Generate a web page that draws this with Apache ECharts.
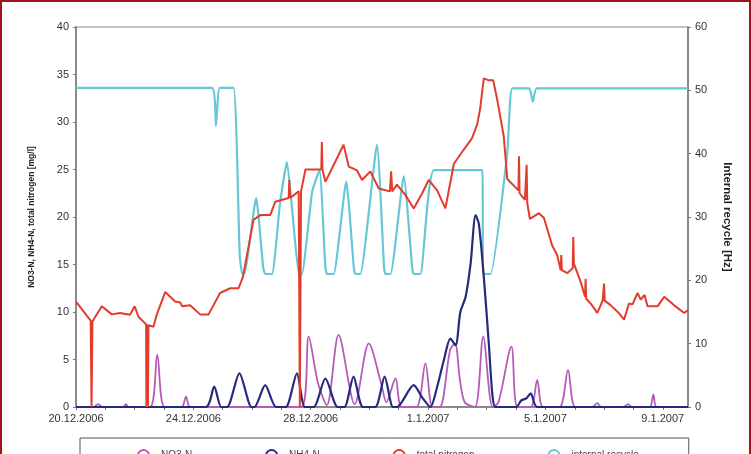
<!DOCTYPE html>
<html><head><meta charset="utf-8">
<script src="https://cdn.jsdelivr.net/npm/echarts@6/dist/echarts.min.js"></script>
<style>
html,body{margin:0;padding:0;background:#fff;}
#wrap{position:relative;width:751px;height:454px;box-sizing:border-box;border-top:2px solid #a3141a;border-left:2px solid #a3141a;border-right:2px solid #a3141a;overflow:hidden;}
#c{position:absolute;left:-2px;top:-2px;width:751px;height:454px;}
</style></head>
<body><div id="wrap"><div id="c"></div></div>
<script>
// x values are days after 20.12.2006 00:00
const tickDates = ['20.12.2006','24.12.2006','28.12.2006','1.1.2007','5.1.2007','9.1.2007'];
const seriesNames = ['NO3-N','NH4-N','total nitrogen','internal recycle'];

const redDays = [0,0.50,0.53,0.56,0.88,1.22,1.50,1.84,2.00,2.13,2.39,2.40,2.42,2.45,2.47,2.64,2.75,3.04,3.38,3.55,3.62,3.89,4.23,4.52,4.91,5.26,5.54,5.69,6.05,6.28,6.62,6.79,7.25,7.27,7.30,7.59,7.63,7.67,7.82,8.36,8.38,8.40,8.50,9.12,9.30,9.58,9.75,10.03,10.32,10.70,10.74,10.78,10.94,11.23,11.51,11.80,12.02,12.31,12.59,12.88,13.22,13.50,13.68,13.78,13.90,14.05,14.22,14.36,14.58,14.70,15.08,15.10,15.12,15.30,15.36,15.38,15.47,15.78,15.95,16.23,16.40,16.52,16.54,16.56,16.75,16.93,16.95,16.97,17.20,17.35,17.37,17.39,17.54,17.77,17.95,18.00,18.02,18.23,18.50,18.68,18.85,18.97,19.14,19.25,19.38,19.48,19.82,20.05,20.39,20.73,20.86];
const redVals = [11.1,9.1,0,9.0,10.6,9.75,9.9,9.7,10.6,9.5,8.7,0,8.7,0,8.6,8.45,9.7,12.1,11.1,11.0,10.6,10.7,9.75,9.75,12.0,12.5,12.5,13.7,19.7,20.2,20.2,21.6,22.0,23.9,22.0,22.7,0,22.7,25.0,25.0,27.9,25.0,23.7,27.6,25.3,24.9,23.9,24.8,23.0,22.7,24.8,22.7,23.4,22.3,20.9,22.5,23.9,22.8,20.9,25.6,27.1,28.3,29.8,31.5,34.6,34.4,34.4,32.3,28.5,24.0,22.8,26.4,22.5,21.8,25.5,21.5,19.8,20.4,19.9,17.0,16.0,14.4,16.0,14.4,14.1,14.6,17.9,15.1,13.2,11.6,13.5,11.4,10.9,9.9,11.2,13.0,11.2,10.7,9.9,9.2,10.9,10.8,12.0,11.3,11.8,10.6,10.6,11.6,10.7,9.9,10.2];

const cyanDays = [0,4.63,4.77,4.90,5.37,5.58,5.67,5.74,6.14,6.38,6.45,6.68,6.95,7.19,7.45,7.60,7.70,8.05,8.30,8.50,8.56,8.78,9.21,9.47,9.52,9.69,10.26,10.50,10.55,10.72,11.17,11.46,11.51,11.74,12.20,13.85,13.88,14.13,14.70,14.87,15.45,15.57,15.70,20.86];
const cyanVals = [50.4,50.4,44.4,50.4,50.4,24,21,21,33.0,22,21,21,32,38.7,27,21,21,34,37.4,22,21,21,35.6,22,21,21,41.4,22,21,21,36.4,22,21,21,37.4,37.4,21,21,40.1,50.3,50.3,48.2,50.3,50.3];

const navyDays = [0,4.42,4.71,4.95,5.15,5.57,5.98,6.08,6.45,6.82,7.15,7.53,7.80,8.10,8.50,8.92,9.15,9.46,9.78,10.20,10.52,10.80,10.94,11.51,11.80,12.08,12.30,12.54,12.76,12.94,13.10,13.28,13.45,13.62,13.73,13.90,14.07,14.19,14.30,15.00,15.18,15.35,15.50,15.72,20.86];
const navyVals = [0,0,2.14,0,0,3.55,0,0,2.3,0,0,3.55,0,0,3.0,0,0,3.2,0,0,3.2,0,0,2.3,1.0,0,2.0,4.95,7.2,6.5,10.0,11.6,15.1,20.2,19.3,13.7,6.7,1.4,0,0,0.7,0.9,1.45,0,0];

const magDays = [0,0.60,0.75,0.90,1.60,1.70,1.80,2.52,2.77,3.02,3.60,3.75,3.90,7.68,7.93,8.25,8.55,8.95,9.50,9.98,10.40,10.58,10.89,11.10,11.60,11.91,12.15,12.40,12.75,12.92,13.08,13.25,13.60,13.88,14.20,14.40,14.84,15.05,15.50,15.72,15.92,16.48,16.77,17.02,17.60,17.77,17.90,18.65,18.82,18.95,19.55,19.68,19.80,20.86];
const magVals = [0,0,0.3,0,0,0.3,0,0,5.5,0,0,1.1,0,0,7.4,2.5,0.2,7.6,0.3,6.7,2.5,0.5,3.0,0,0,4.6,0,0,6.0,6.7,3.0,0.5,0,7.4,0,0.5,6.35,0,0,2.85,0,0,3.9,0,0,0.4,0,0,0.3,0,0,1.3,0,0];

function pairs(d, v){ return d.map((x,i)=>[x, v[i]]); }

const chart = echarts.init(document.getElementById('c'), null, {renderer:'canvas'});
const axisFont = {fontFamily:'Liberation Sans, Arial, sans-serif', fontSize:11, color:'#333'};
chart.setOption({
  animation:false,
  backgroundColor:'#fff',
  grid:{left:76, right:63, top:27, bottom:47, show:true, borderColor:'#c4c4c4', borderWidth:2},
  legend:{
    show:true, left:80, top:438, padding:[11,50,4,50], itemGap:66,
    borderColor:'#555', borderWidth:1, textStyle:{fontSize:10, color:'#444'},
    data:seriesNames
  },
  xAxis:{
    type:'value', min:0, max:20.86, interval:1,
    axisLine:{show:true, lineStyle:{color:'#777', width:1.5}},
    axisTick:{show:true, inside:false, length:3, lineStyle:{color:'#777'}},
    splitLine:{show:false},
    axisLabel:Object.assign({margin:6, showMaxLabel:false,
      formatter:function(v){ const k=Math.round(v); return (k%4===0 && Math.abs(v-k)<1e-6) ? (tickDates[k/4]||'') : ''; }}, axisFont)
  },
  yAxis:[{
    type:'value', min:0, max:40, interval:5, position:'left',
    name:'NO3-N, NH4-N, total nitrogen [mg/l]', nameLocation:'middle', nameGap:40, nameRotate:90,
    nameTextStyle:{fontFamily:'Liberation Sans, Arial, sans-serif', fontSize:8.5, fontWeight:'bold', color:'#222'},
    axisLine:{show:true, lineStyle:{color:'#777', width:1.5}},
    axisTick:{show:true, length:3, lineStyle:{color:'#777'}},
    splitLine:{show:false},
    axisLabel:Object.assign({margin:7}, axisFont)
  },{
    type:'value', min:0, max:60, interval:10, position:'right',
    name:'Internal recycle [Hz]', nameLocation:'middle', nameGap:33, nameRotate:-90,
    nameTextStyle:{fontFamily:'Liberation Sans, Arial, sans-serif', fontSize:11.5, fontWeight:'bold', color:'#222'},
    axisLine:{show:true, lineStyle:{color:'#777', width:1.5}},
    axisTick:{show:true, length:3, lineStyle:{color:'#777'}},
    splitLine:{show:false},
    axisLabel:Object.assign({margin:7}, axisFont)
  }],
  series:[
    {name:seriesNames[3], type:'line', yAxisIndex:1, data:pairs(cyanDays,cyanVals), showSymbol:false, smooth:0.15,
     lineStyle:{color:'#66c8d6', width:2.2}, itemStyle:{color:'#66c8d6'}, z:2},
    {name:seriesNames[0], type:'line', yAxisIndex:0, data:pairs(magDays,magVals), showSymbol:false, smooth:0.3,
     lineStyle:{color:'#b55cb9', width:1.8}, itemStyle:{color:'#b55cb9'}, z:3},
    {name:seriesNames[1], type:'line', yAxisIndex:0, data:pairs(navyDays,navyVals), showSymbol:false, smooth:0.25,
     lineStyle:{color:'#262a7c', width:2.2}, itemStyle:{color:'#262a7c'}, z:4},
    {name:seriesNames[2], type:'line', yAxisIndex:0, data:pairs(redDays,redVals), showSymbol:false,
     lineStyle:{color:'#e23c2c', width:2}, itemStyle:{color:'#e23c2c'}, z:5}
  ]
});
</script></body></html>
